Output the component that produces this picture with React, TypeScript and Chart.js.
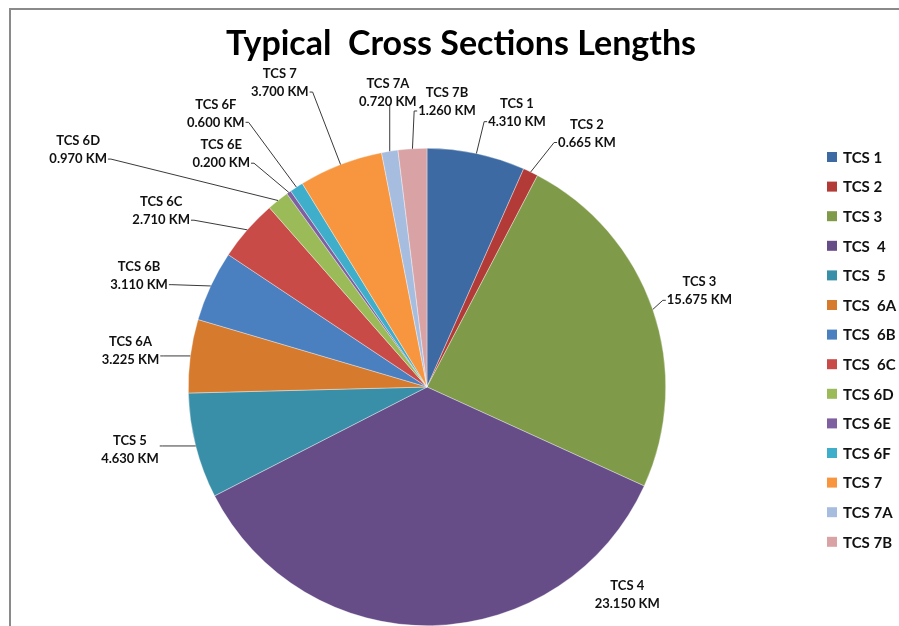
import React, { useEffect, useRef } from "react";
import { Chart, registerables } from "chart.js";

Chart.register(...registerables);

const chartTitle = "Typical  Cross Sections Lengths";
const categories = [
  "TCS 1", "TCS 2", "TCS 3", "TCS  4", "TCS  5", "TCS  6A", "TCS  6B",
  "TCS  6C", "TCS 6D", "TCS 6E", "TCS 6F", "TCS 7", "TCS 7A", "TCS 7B",
];
const lengthsKm = [
  4.31, 0.665, 15.675, 23.15, 4.63, 3.225, 3.11, 2.71, 0.97, 0.2, 0.6, 3.7, 0.72, 1.26,
];
const unitSuffix = " KM";

// styling / label layout (not data)
const sliceColors = [
  "#3D6AA3", "#B23B38", "#7F9A48", "#664D88", "#3A8FA8", "#D67B2E", "#4A7FC0",
  "#C84B48", "#9BBB59", "#7E60A0", "#3EAECB", "#F7963F", "#A7BDE0", "#D9A3A5",
];
const labelAngleNudge = [6.2, 6.5, -0.4, -42.6, 2.3, -0.6, -3.9, -7.7, -17.2, -6.1, -4.5, -4.6, 1.4, 7.5];
const labelGap = [50, 61, 50, 50, 65, 60, 70, 80, 183, 72, 107, 99, 58, 47];
const showLeader = [true, true, true, false, true, true, true, true, true, true, true, true, true, true];

const FONT = "Lato, 'Open Sans', sans-serif";

const decorPlugin = {
  id: "decor",
  beforeDraw(chart: any) {
    const ctx = chart.ctx;
    ctx.save();
    ctx.fillStyle = "#ffffff";
    ctx.fillRect(0, 0, chart.width, chart.height);
    ctx.strokeStyle = "#8a8a8a";
    ctx.lineWidth = 2;
    ctx.strokeRect(10, 9, chart.width + 20, chart.height + 20);
    ctx.restore();
  },
  afterDatasetsDraw(chart: any) {
    const ctx = chart.ctx;
    const meta = chart.getDatasetMeta(0);
    const ds = chart.data.datasets[0];
    ctx.save();
    // title
    ctx.fillStyle = "#000";
    ctx.font = `bold 34px ${FONT}`;
    ctx.textAlign = "center";
    ctx.textBaseline = "middle";
    ctx.fillText(chartTitle, 461, 44);

    // data labels
    ctx.font = `bold 13px ${FONT}`;
    meta.data.forEach((arc: any, i: number) => {
      const p = arc.getProps(["x", "y", "startAngle", "endAngle", "outerRadius"], true);
      const mid = (p.startAngle + p.endAngle) / 2;
      const ex = p.x + p.outerRadius * Math.cos(mid);
      const ey = p.y + p.outerRadius * Math.sin(mid);
      const la = mid + (labelAngleNudge[i] * Math.PI) / 180;
      const ld = p.outerRadius + labelGap[i];
      const cx = p.x + ld * Math.cos(la);
      const cy = p.y + ld * Math.sin(la);
      const l1 = String(chart.data.labels[i]).replace(/\s+/g, " ");
      const l2 = Number(ds.data[i]).toFixed(3) + unitSuffix;
      const w = Math.max(ctx.measureText(l1).width, ctx.measureText(l2).width);
      const left = cx - w / 2;
      const right = cx + w / 2;
      const top = cy - 15;
      const bottom = cy + 15;
      if (showLeader[i]) {
        ctx.strokeStyle = "#3a3a3a";
        ctx.lineWidth = 1;
        ctx.beginPath();
        const clampY = Math.min(Math.max(ey, cy - 6), cy + 9);
        if (ex < left - 2) {
          ctx.moveTo(left - 1, clampY);
          ctx.lineTo(left - 4, clampY);
          ctx.lineTo(ex, ey);
        } else if (ex > right + 2) {
          ctx.moveTo(right + 1, clampY);
          ctx.lineTo(right + 4, clampY);
          ctx.lineTo(ex, ey);
        } else if (ey > bottom) {
          ctx.moveTo(ex, bottom - 4);
          ctx.lineTo(ex, ey);
        } else {
          ctx.moveTo(ex, top);
          ctx.lineTo(ex, ey);
        }
        ctx.stroke();
      }
      ctx.fillStyle = "#111";
      ctx.textAlign = "center";
      ctx.textBaseline = "middle";
      ctx.fillText(l1, cx, cy - 9);
      ctx.fillText(l2, cx, cy + 9);
    });

    // legend
    ctx.font = `bold 15px ${FONT}`;
    ctx.textAlign = "left";
    ctx.textBaseline = "middle";
    chart.data.labels.forEach((lab: string, i: number) => {
      const y = 157 + i * 29.6;
      ctx.fillStyle = ds.backgroundColor[i];
      ctx.fillRect(827, y - 5, 10, 10);
      ctx.fillStyle = "#111";
      ctx.fillText(lab, 843, y + 1);
    });
    ctx.restore();
  },
};

export default function App() {
  const ref = useRef<HTMLCanvasElement>(null);
  useEffect(() => {
    if (!ref.current) return;
    const chart = new Chart(ref.current, {
      type: "pie",
      data: {
        labels: categories,
        datasets: [
          {
            data: lengthsKm,
            backgroundColor: sliceColors,
            borderColor: "rgba(255,255,255,0.6)",
            borderWidth: 0.6,
          },
        ],
      },
      options: {
        responsive: false,
        animation: false,
        devicePixelRatio: 1,
        layout: { padding: { left: 188, right: 233, top: 148, bottom: 0 } },
        plugins: {
          legend: { display: false },
          title: { display: false },
          tooltip: { enabled: false },
        },
      },
      plugins: [decorPlugin],
    });
    return () => chart.destroy();
  }, []);
  return (
    <div style={{ position: "fixed", left: 0, top: 0, width: 899, height: 626, background: "#fff" }}>
      <canvas ref={ref} width={899} height={626} style={{ display: "block" }} />
    </div>
  );
}
